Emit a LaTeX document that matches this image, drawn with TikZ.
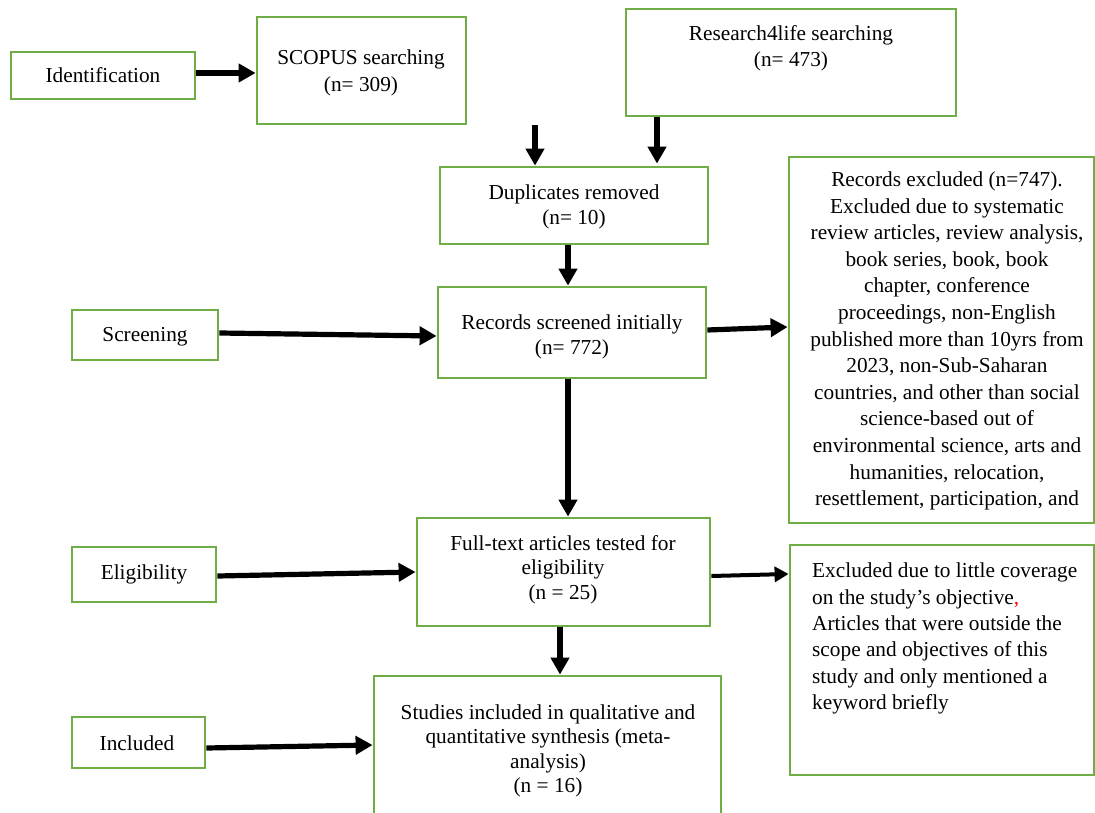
\documentclass[tikz,border=0pt]{standalone}
\usepackage{fontspec}
\setmainfont{Liberation Serif}
\usetikzlibrary{arrows.meta}
\definecolor{boxgreen}{RGB}{112,173,71}
\begin{document}
\begin{tikzpicture}[x=1pt,y=-1pt,
  box/.style={draw=boxgreen,line width=2.8pt,inner sep=0pt,fill=none},
  txt/.style={inner sep=0pt,align=center,font=\fontsize{21.3}{25}\selectfont},
  ltxt/.style={inner sep=0pt,align=left,font=\fontsize{21.3}{26.3}\selectfont},
  arr/.style={line width=5.2pt,-{Triangle[length=17pt,width=18pt]}},
  thinarr/.style={line width=4pt,-{Triangle[length=14pt,width=15pt]}}]
\useasboundingbox (0,0) rectangle (1095,813);
\fill[white] (0,0) rectangle (1095,813);
% boxes
\node[box,minimum width=184pt,minimum height=47pt] (id) at (103,75.5) {};
\node[box,minimum width=209pt,minimum height=107pt] (scopus) at (361.5,70.5) {};
\node[box,minimum width=330pt,minimum height=107pt] (res) at (791,62.5) {};
\node[box,minimum width=268pt,minimum height=77pt] (dup) at (574,205.5) {};
\node[box,minimum width=305pt,minimum height=366pt] (rex) at (941.5,340) {};
\node[box,minimum width=146pt,minimum height=50pt] (scr) at (145,335) {};
\node[box,minimum width=268pt,minimum height=91pt] (rs) at (572,332.5) {};
\node[box,minimum width=144pt,minimum height=55pt] (elig) at (144,574.5) {};
\node[box,minimum width=293pt,minimum height=108pt] (ft) at (563.5,572) {};
\node[box,minimum width=304pt,minimum height=230pt] (ex2) at (942,660) {};
\node[box,minimum width=133pt,minimum height=51pt] (inc) at (138.5,742.5) {};
\node[box,minimum width=347pt,minimum height=154pt] (st) at (547.5,753) {};
% texts
\node[txt] (id-t) at (103,75) {Identification};
\node[txt,font=\fontsize{21.3}{27}\selectfont] (scopus-t) at (361,73) {SCOPUS searching\\(n= 309)};
\node[txt,font=\fontsize{21.3}{26}\selectfont] (res-t) at (791,48) {Research4life searching\\(n= 473)};
\node[txt] (dup-t) at (574,206.5) {Duplicates removed\\(n= 10)};
\node[txt,font=\fontsize{21.3}{26.6}\selectfont] (rex-t) at (947,341) {Records excluded (n=747).\\Excluded due to systematic\\review articles, review analysis,\\book series, book, book\\chapter, conference\\proceedings, non-English\\published more than 10yrs from\\2023, non-Sub-Saharan\\countries, and other than social\\science-based out of\\environmental science, arts and\\humanities, relocation,\\resettlement, participation, and};
\node[txt] (scr-t) at (145,337) {Screening};
\node[txt] (rs-t) at (572,336.5) {Records screened initially\\(n= 772)};
\node[txt] (elig-t) at (144,574) {Eligibility};
\node[txt,font=\fontsize{21.3}{24.5}\selectfont] (ft-t) at (563,569.5) {Full-text articles tested for\\eligibility\\(n = 25)};
\node[ltxt,anchor=north west] (ex2-t) at (812,563) {Excluded due to little coverage\\on the study’s objective{\color{red},}\\Articles that were outside the\\scope and objectives of this\\study and only mentioned a\\keyword briefly};
\node[txt] (inc-t) at (137,743) {Included};
\node[txt,font=\fontsize{21.3}{24.4}\selectfont] (st-t) at (548,751) {Studies included in qualitative and\\quantitative synthesis (meta-\\analysis)\\(n = 16)};
% helper coordinates for vertical arrows
\coordinate (c1) at (535,0);
\coordinate (c2) at (657,0);
\coordinate (c3) at (568,0);
\coordinate (c4) at (560,0);
% connectors
\draw[arr] ([yshift=2.5pt]id.east) -- ([yshift=-2.5pt]scopus.west);
\draw[arr] (scopus.south -| c1) -- (dup.north -| c1);
\draw[arr] (res.south -| c2) -- ([yshift=2pt]dup.north -| c2);
\draw[arr] (dup.south -| c3) -- (rs.north -| c3);
\draw[arr] ([yshift=2pt]scr.east) -- ([yshift=-3.5pt]rs.west);
\draw[arr] ([yshift=2.5pt]rs.east) -- ([yshift=13pt]rex.west);
\draw[arr] (rs.south -| c3) -- (ft.north -| c3);
\draw[arr] ([yshift=-1.5pt]elig.east) -- (ft.west);
\draw[thinarr] ([yshift=-4pt]ft.east) -- ([yshift=86pt]ex2.west);
\draw[arr] (ft.south -| c4) -- (st.north -| c4);
\draw[arr] ([yshift=-5.5pt]inc.east) -- ([yshift=8pt]st.west);
\end{tikzpicture}
\end{document}
